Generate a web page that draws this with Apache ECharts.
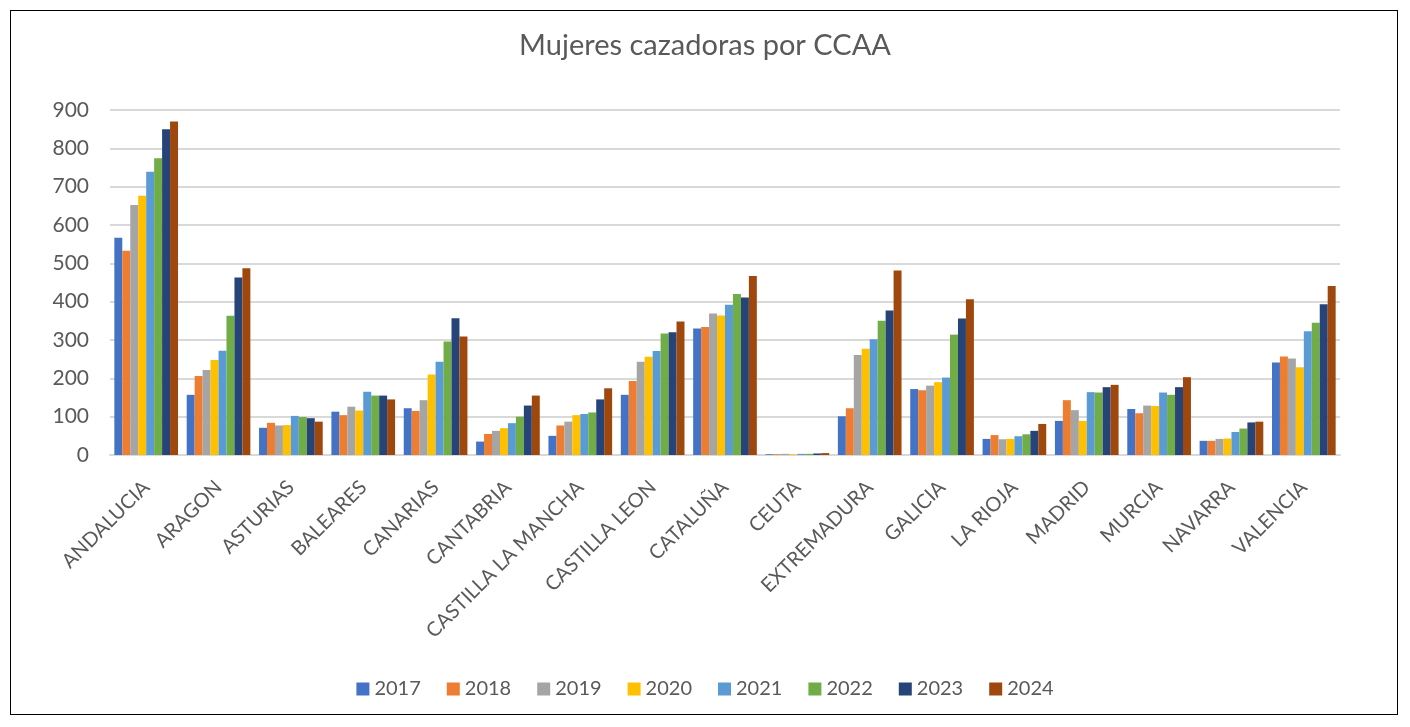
<!DOCTYPE html>
<html>
<head>
<meta charset="utf-8">
<script src="https://cdn.jsdelivr.net/npm/echarts@6/dist/echarts.min.js"></script>
<style>
html,body{margin:0;padding:0;background:#fff;}
#frame{position:absolute;left:10px;top:10px;width:1388px;height:705px;border:1.5px solid #000;box-sizing:border-box;}
#chart{position:absolute;left:0;top:0;width:1410px;height:727px;}
</style>
</head>
<body>
<div id="frame"></div>
<div id="chart"></div>
<script>
const categories = ["ANDALUCIA","ARAGON","ASTURIAS","BALEARES","CANARIAS","CANTABRIA","CASTILLA LA MANCHA","CASTILLA LEON","CATALUÑA","CEUTA","EXTREMADURA","GALICIA","LA RIOJA","MADRID","MURCIA","NAVARRA","VALENCIA"];
const years = ["2017","2018","2019","2020","2021","2022","2023","2024"];
const v2017 = [567,157,71,113,122,35,50,157,330,2,101,172,42,89,120,37,241];
const v2018 = [533,206,84,104,115,55,77,193,334,2,122,169,52,143,109,37,257];
const v2019 = [652,222,77,126,143,63,87,243,369,3,261,181,41,117,129,42,252];
const v2020 = [676,248,78,116,210,70,104,256,364,2,277,190,42,89,128,43,229];
const v2021 = [739,272,102,165,243,83,107,271,392,3,302,202,49,164,163,60,323];
const v2022 = [774,363,99,155,296,100,111,317,420,3,350,314,54,163,157,69,345];
const v2023 = [850,463,96,155,357,129,145,320,411,4,377,356,63,177,177,85,393];
const v2024 = [870,487,87,145,309,155,174,348,467,5,481,406,81,183,203,87,441];
const yTicks = [0,100,200,300,400,500,600,700,800,900];

const seriesValues = [v2017,v2018,v2019,v2020,v2021,v2022,v2023,v2024];
const colors = ["#4472C4","#ED7D31","#A5A5A5","#FFC000","#5B9BD5","#70AD47","#264478","#9E480E"];
const FONT = "Lato, 'Open Sans', sans-serif";

const chart = echarts.init(document.getElementById('chart'));
chart.setOption({
  backgroundColor: 'transparent',
  animation: false,
  color: colors,
  title: {
    text: 'Mujeres cazadoras por CCAA',
    left: 'center',
    top: 26,
    textStyle: {fontFamily: FONT, fontSize: 29, fontWeight: 'normal', color: '#595959'}
  },
  legend: {
    bottom: 23,
    left: 'center',
    itemWidth: 13,
    itemHeight: 13,
    itemGap: 26,
    icon: 'rect',
    textStyle: {fontFamily: FONT, fontSize: 20, color: '#595959'},
    data: years
  },
  grid: {left: 110, right: 70, top: 110, bottom: 272, containLabel: false},
  xAxis: {
    type: 'category',
    data: categories,
    axisTick: {show: false},
    axisLine: {lineStyle: {color: '#d9d9d9', width: 2}},
    axisLabel: {rotate: 45, interval: 0, fontFamily: FONT, fontSize: 20, color: '#595959', margin: 29}
  },
  yAxis: {
    type: 'value',
    min: yTicks[0],
    max: yTicks[yTicks.length-1],
    interval: 100,
    axisLine: {show: false},
    axisTick: {show: false},
    splitLine: {lineStyle: {color: '#d9d9d9', width: 2}},
    axisLabel: {fontFamily: FONT, fontSize: 21, color: '#595959', margin: 21}
  },
  series: years.map((y, i) => ({
    name: y,
    type: 'bar',
    data: seriesValues[i],
    barGap: '0%',
    barCategoryGap: '12%',
    itemStyle: {color: colors[i]}
  }))
});
</script>
</body>
</html>
